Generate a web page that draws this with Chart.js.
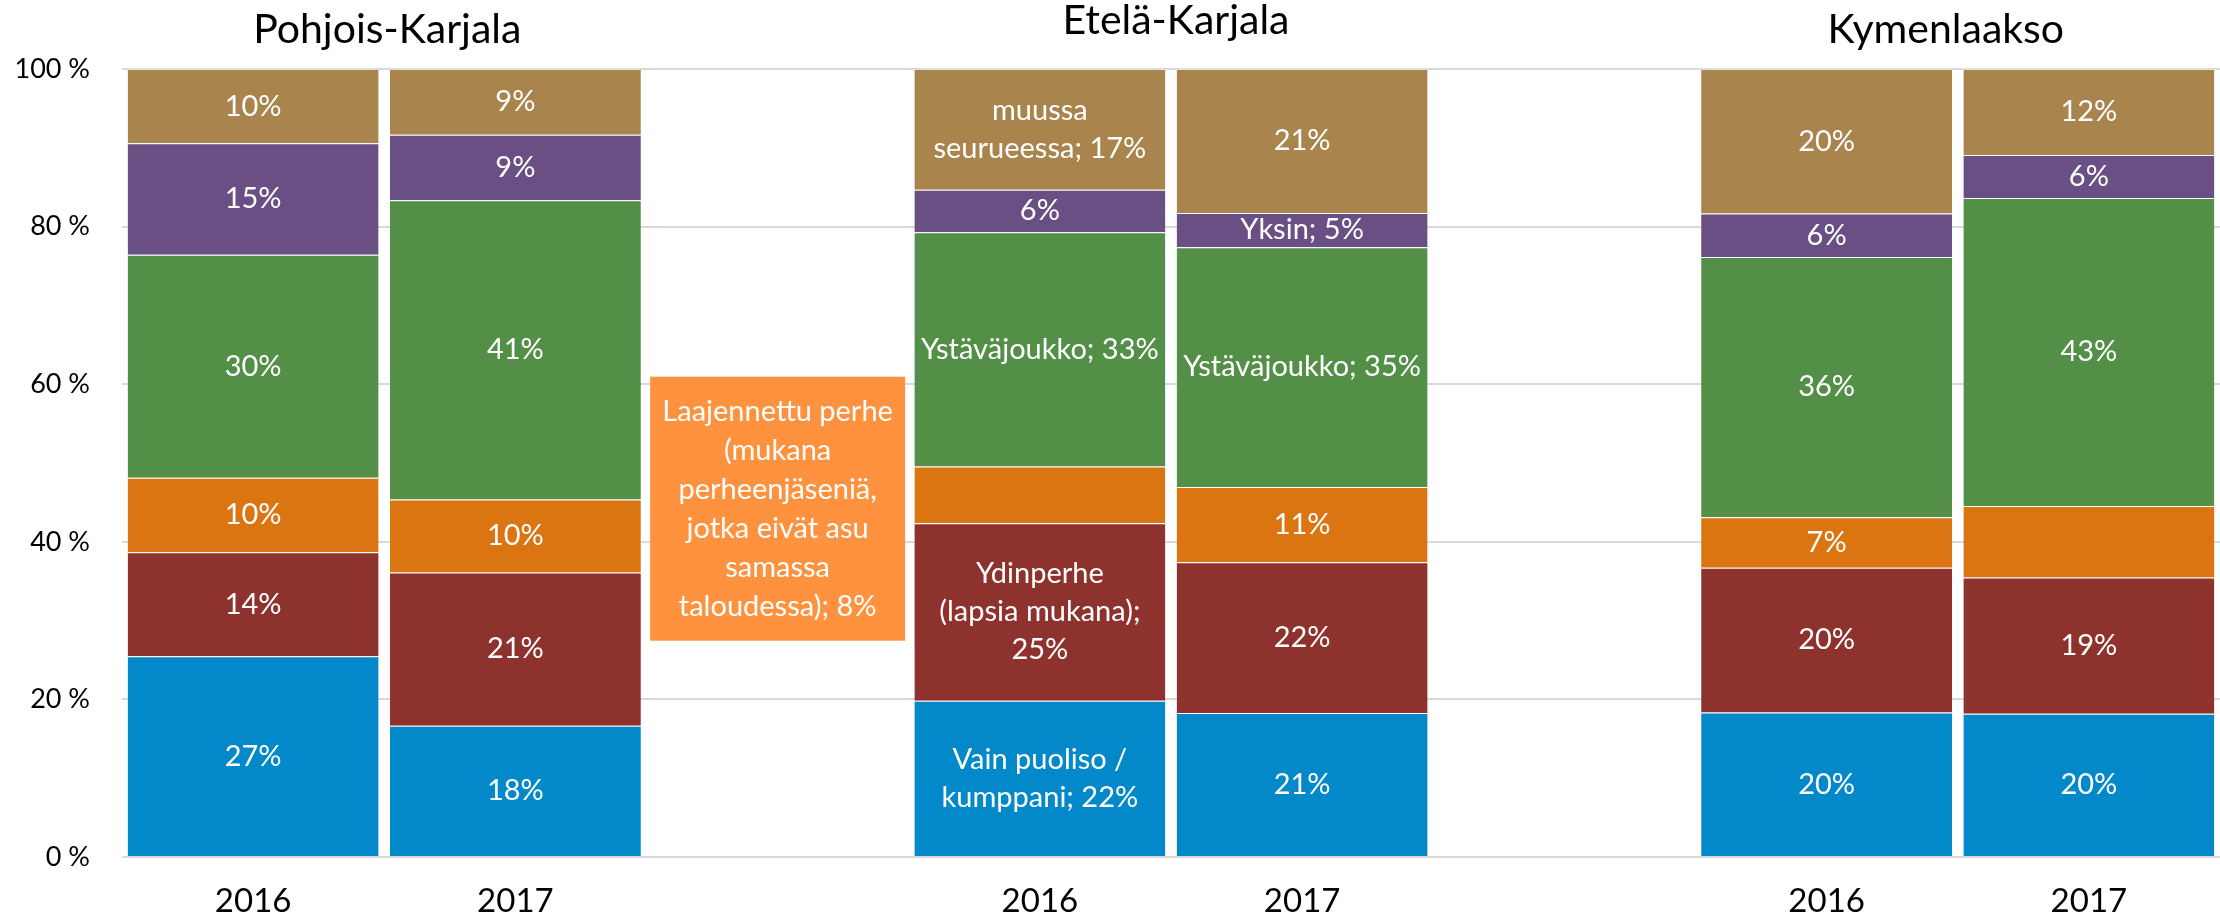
<!DOCTYPE html>
<html>
<head>
<meta charset="utf-8">
<title>Matkaseurue</title>
<script src="https://cdn.jsdelivr.net/npm/chart.js@4.4.1/dist/chart.umd.min.js"></script>
<style>
    html, body { margin: 0; padding: 0; background: #fff; }
    #wrap { width: 2220px; height: 922px; }
</style>
</head>
<body>
<div id="wrap"><canvas id="myChart"></canvas></div>
<script>
// slots: PK 2016, PK 2017, (gap), EK 2016, EK 2017, (gap), KY 2016, KY 2017
var years = ['2016', '2017', '', '2016', '2017', '', '2016', '2017'];
var regions = ['Pohjois-Karjala', 'Etelä-Karjala', 'Kymenlaakso'];
var regionSlots = [[0, 1], [3, 4], [6, 7]];

var seriesNames = [
    'Vain puoliso / kumppani',
    'Ydinperhe (lapsia mukana)',
    'Laajennettu perhe (mukana perheenjäseniä, jotka eivät asu samassa taloudessa)',
    'Ystäväjoukko',
    'Yksin',
    'muussa seurueessa'
];
var seriesColors = ['#0389CA', '#8E322D', '#DA7512', '#538F47', '#694F83', '#A9844D'];

// shares in %, as labelled in the original (bars are 100 % stacked)
var puoliso   = [27, 18, null, 22, 21, null, 20, 20];
var ydinperhe = [14, 21, null, 25, 22, null, 20, 19];
var laaja     = [10, 10, null,  8, 11, null,  7, 10];
var ystavat   = [30, 41, null, 33, 35, null, 36, 43];
var yksin     = [15,  9, null,  6,  5, null,  6,  6];
var muu       = [10,  9, null, 17, 21, null, 20, 12];

var yTicks = [0, 20, 40, 60, 80, 100];

// labels that show the series name too (Excel line breaks)
var namedLabels = {
    '0-3': ['Vain puoliso /', 'kumppani; 22%'],
    '1-3': ['Ydinperhe', '(lapsia mukana);', '25%'],
    '3-3': ['Ystäväjoukko; 33%'],
    '3-4': ['Ystäväjoukko; 35%'],
    '4-4': ['Yksin; 5%'],
    '5-3': ['muussa', 'seurueessa; 17%']
};
var calloutLabel = ['Laajennettu perhe', '(mukana', 'perheenjäseniä,', 'jotka eivät asu', 'samassa', 'taloudessa); 8%'];
var hiddenLabels = ['2-3', '2-7'];

var raw = [puoliso, ydinperhe, laaja, ystavat, yksin, muu];

var totals = years.map(function (y, i) {
    var s = 0;
    raw.forEach(function (arr) { s += arr[i] || 0; });
    return s;
});

var share = function (arr) {
    return arr.map(function (v, i) {
        return v == null ? null : v / totals[i] * 100;
    });
};

var labelPlugin = {
    id: 'segLabels',
    afterDatasetsDraw: function (chart) {
        var c = chart.ctx;
        c.save();
        c.font = '29px Lato';
        c.fillStyle = '#fff';
        c.textAlign = 'center';
        c.textBaseline = 'middle';
        var lh = 38;

        chart.data.datasets.forEach(function (ds, di) {
            var meta = chart.getDatasetMeta(di);
            meta.data.forEach(function (bar, i) {
                var v = raw[di][i];
                if (v == null) return;
                var key = di + '-' + i;
                if (hiddenLabels.indexOf(key) >= 0) return;
                var lines = namedLabels[key] || [v + '%'];
                var cy = (bar.y + bar.base) / 2;
                lines.forEach(function (t, k) {
                    c.fillText(t, bar.x, cy + (k - (lines.length - 1) / 2) * lh);
                });
            });
        });

        // callout for the extended family share of EK 2016, sits in the gap slot
        var xs = chart.scales.x, ys = chart.scales.y;
        var bw = chart.getDatasetMeta(0).data[0].width + 4;
        var bx = xs.getPixelForValue(2);
        var by = ys.getPixelForValue(44.2);
        var bh = 264;
        c.fillStyle = '#FE923F';
        c.fillRect(bx - bw / 2, by - bh / 2, bw, bh);
        c.fillStyle = '#fff';
        calloutLabel.forEach(function (t, k) {
            c.fillText(t, bx, by + (k - (calloutLabel.length - 1) / 2) * 39);
        });
        c.restore();
    },
    afterDraw: function (chart) {
        var c = chart.ctx;
        var xs = chart.scales.x;
        var titleY = [43, 34, 43];
        var titleDx = [3, 5, -12];
        c.save();
        c.font = '41px Lato';
        c.fillStyle = '#000';
        c.textAlign = 'center';
        c.textBaseline = 'alphabetic';
        regions.forEach(function (r, k) {
            var s = regionSlots[k];
            var x = (xs.getPixelForValue(s[0]) + xs.getPixelForValue(s[1])) / 2;
            c.fillText(r, x + titleDx[k], titleY[k]);
        });
        c.restore();
    }
};

Chart.defaults.font.family = 'Lato';
Chart.defaults.color = '#000';

new Chart(document.getElementById('myChart'), {
    type: 'bar',
    data: {
        labels: years,
        datasets: raw.map(function (arr, k) {
            return {
                label: seriesNames[k],
                data: share(arr),
                backgroundColor: seriesColors[k],
                borderWidth: { top: 1, bottom: 0, left: 0, right: 0 },
                borderColor: 'rgba(255,255,255,0.25)',
                borderSkipped: false,
                categoryPercentage: 1,
                barPercentage: 0.957
            };
        })
    },
    options: {
        responsive: true,
        maintainAspectRatio: false,
        animation: false,
        layout: { padding: { top: 69, left: 0, right: 0, bottom: 0 } },
        plugins: {
            legend: { display: false },
            tooltip: { enabled: false }
        },
        scales: {
            x: {
                stacked: true,
                grid: { display: false, drawTicks: false },
                border: { display: false },
                ticks: { font: { size: 33 }, padding: 25, maxRotation: 0, autoSkip: false },
                afterFit: function (scale) { scale.height = 65; }
            },
            y: {
                stacked: true,
                min: 0,
                max: 100,
                afterBuildTicks: function (scale) {
                    scale.ticks = yTicks.map(function (v) { return { value: v }; });
                },
                grid: { color: '#D9D9D9', lineWidth: 2, drawTicks: false },
                border: { display: false },
                ticks: {
                    font: { size: 27 },
                    padding: 32,
                    callback: function (v) { return v + ' %'; }
                },
                afterFit: function (scale) { scale.width = 122; }
            }
        }
    },
    plugins: [labelPlugin]
});
</script>
</body>
</html>
